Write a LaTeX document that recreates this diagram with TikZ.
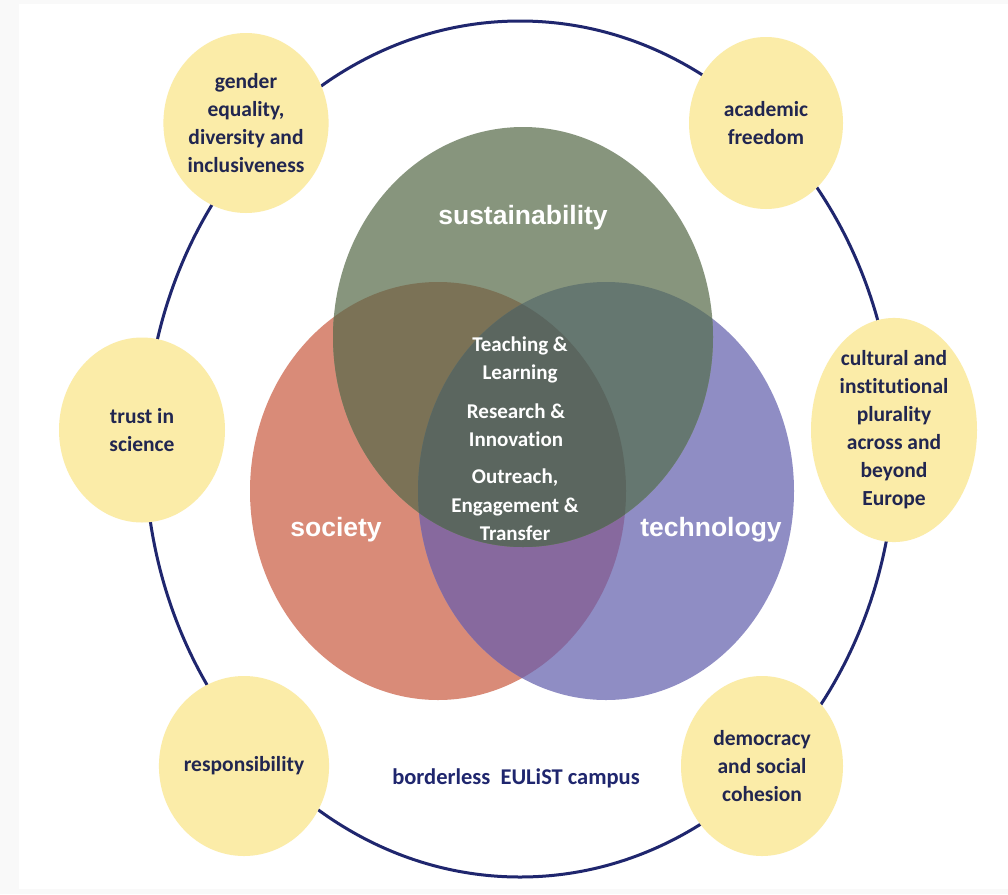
\documentclass[tikz,border=0pt]{standalone}
\usepackage{fontspec}
\setmainfont[Ligatures=NoCommon]{Carlito}
\newfontfamily\arialfont{Liberation Sans}
\usetikzlibrary{shapes.geometric}
\definecolor{ColNavy}{RGB}{31,38,110}
\definecolor{ColText}{RGB}{33,38,80}
\definecolor{ColYellow}{RGB}{251,236,168}
\definecolor{ColSus}{RGB}{135,149,125}
\definecolor{ColSoc}{RGB}{217,139,120}
\definecolor{ColTech}{RGB}{143,141,196}
\definecolor{ColSocTech}{RGB}{135,105,158}
\definecolor{ColSusSoc}{RGB}{123,114,86}
\definecolor{ColSusTech}{RGB}{101,119,112}
\definecolor{ColCore}{RGB}{91,102,95}
\tikzstyle{ValueNode}=[ellipse,fill=ColYellow,inner sep=0pt,minimum width=162pt,
minimum height=182pt,align=center,text=ColText,font=\bfseries\fontsize{21.5}{28}\selectfont]
\tikzstyle{AreaLabel}=[text=white,font=\arialfont\bfseries\fontsize{26.5}{30}\selectfont]
\tikzstyle{CoreLabel}=[text=white,align=center,font=\bfseries\fontsize{21}{28.5}\selectfont]
\newcommand{\SusPath}{(523,337) ellipse [x radius=190pt,y radius=210pt]}
\newcommand{\SocPath}{(438,491) ellipse [x radius=188pt,y radius=209pt]}
\newcommand{\TechPath}{(606,491) ellipse [x radius=188pt,y radius=209pt]}

\begin{document}
\begin{tikzpicture}[x=1pt,y=-1pt]
        \useasboundingbox(0,0)rectangle(1008,894);
        \fill[gray!5](0,0)rectangle(1008,894);
        \fill[white](19,4)rectangle(1008,889);
        % campus ring
        \draw[ColNavy,line width=3pt](520,449)ellipse[x radius=375pt,y radius=428pt];
        % venn
        \fill[ColSoc]\SocPath;
        \fill[ColTech]\TechPath;
        \begin{scope}
            \clip\SocPath;
            \fill[ColSocTech]\TechPath;
        \end{scope}
        \fill[ColSus]\SusPath;
        \begin{scope}
            \clip\SusPath;
            \fill[ColSusSoc]\SocPath;
            \fill[ColSusTech]\TechPath;
            \clip\SocPath;
            \fill[ColCore]\TechPath;
        \end{scope}
        \node[AreaLabel](sus)at(523,218){sustainability};
        \node[AreaLabel](soc)at(336,530){society};
        \node[AreaLabel](tech)at(711,530){technology};
        \node[CoreLabel](teach)at(520,360){Teaching \&\\Learning};
        \node[CoreLabel](res)at(516,425){Research \&\\Innovation};
        \node[CoreLabel](out)at(515,505){Outreach,\\Engagement \&\\Transfer};
        % values
        \node[ValueNode,minimum width=160pt,minimum height=180pt](gender)at(246,123){gender\\equality,\\diversity and\\inclusiveness};
        \node[ValueNode,minimum width=154pt,minimum height=172pt](freedom)at(766,123){academic\\freedom};
        \node[ValueNode,minimum width=166pt,minimum height=185pt](trust)at(142,430){trust in\\science};
        \node[ValueNode,minimum width=166pt,minimum height=185pt](plural)at(894,430){cultural and\\institutional\\plurality\\across and\\beyond\\Europe};
        \node[ValueNode,minimum width=156pt,minimum height=180pt](resp)at(244,766){responsibility};
        \node[ValueNode,minimum width=162pt,minimum height=180pt](democ)at(762,766){democracy\\and social\\cohesion};
        \node[text=ColNavy,font=\bfseries\fontsize{22.5}{26}\selectfont](campus)at(516,778){borderless\ \ EULiST campus};
    \end{tikzpicture}
\end{document}
